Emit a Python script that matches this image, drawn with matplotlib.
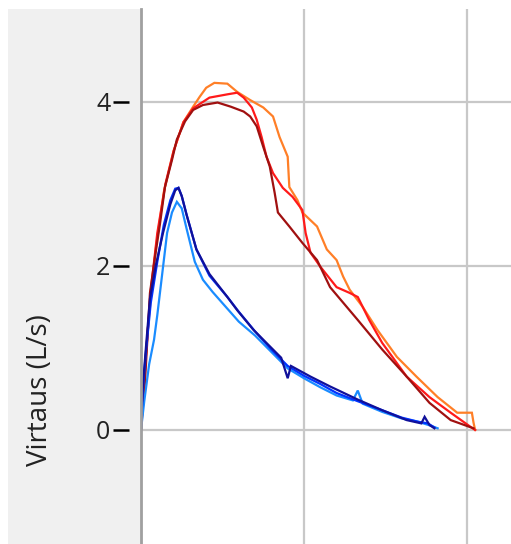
import matplotlib.pyplot as plt
from matplotlib.patches import Rectangle
from matplotlib.transforms import blended_transform_factory

# flow-volume curves, values (x: volume, y: flow L/s)
orange_x = [0, 0.04, 0.09, 0.14, 0.20, 0.26, 0.32, 0.36, 0.40, 0.45, 0.53, 0.59, 0.67,
            0.75, 0.81, 0.85, 0.90, 0.91, 0.96, 0.99, 1.08, 1.14, 1.20, 1.24, 1.28, 1.36,
            1.45, 1.57, 1.69, 1.82, 1.94, 2.03, 2.04, 2.05]
orange_y = [0, 1.2, 2.2, 2.9, 3.4, 3.75, 3.94, 4.06, 4.17, 4.23, 4.22, 4.12, 4.02,
            3.93, 3.82, 3.57, 3.33, 2.96, 2.80, 2.65, 2.48, 2.20, 2.07, 1.87, 1.71, 1.50,
            1.22, 0.89, 0.65, 0.40, 0.21, 0.21, 0.09, 0.0]

red_x = [0, 0.03, 0.06, 0.10, 0.15, 0.20, 0.26, 0.32, 0.42, 0.53, 0.59, 0.63, 0.68,
         0.71, 0.74, 0.77, 0.81, 0.87, 0.93, 0.99, 1.01, 1.04, 1.10, 1.20, 1.28, 1.33,
         1.40, 1.48, 1.63, 1.77, 1.90, 2.02, 2.05]
red_y = [0, 0.9, 1.7, 2.4, 3.0, 3.4, 3.75, 3.92, 4.05, 4.09, 4.11, 4.05, 3.93,
         3.78, 3.57, 3.33, 3.13, 2.95, 2.84, 2.68, 2.40, 2.16, 1.99, 1.74, 1.67, 1.62,
         1.34, 1.06, 0.65, 0.40, 0.21, 0.04, 0.0]

darkred_x = [0, 0.025, 0.055, 0.086, 0.117, 0.147, 0.19, 0.22, 0.27, 0.32, 0.38, 0.47,
             0.55, 0.63, 0.67, 0.71, 0.75, 0.79, 0.82, 0.84, 0.91, 0.99, 1.08, 1.16,
             1.33, 1.48, 1.63, 1.77, 1.90, 2.04]
darkred_y = [0, 0.61, 1.67, 2.11, 2.52, 2.96, 3.29, 3.54, 3.76, 3.90, 3.96, 3.99,
             3.94, 3.88, 3.82, 3.70, 3.45, 3.21, 2.89, 2.65, 2.48, 2.28, 2.07, 1.74,
             1.34, 0.98, 0.65, 0.33, 0.12, 0.02]

lightblue_x = [0, 0.02, 0.05, 0.08, 0.10, 0.13, 0.16, 0.19, 0.22, 0.25, 0.28, 0.33,
               0.38, 0.44, 0.52, 0.60, 0.70, 0.80, 0.90, 1.00, 1.10, 1.20, 1.30, 1.33,
               1.36, 1.48, 1.60, 1.70, 1.78, 1.82]
lightblue_y = [0, 0.35, 0.80, 1.10, 1.40, 1.90, 2.40, 2.65, 2.78, 2.70, 2.45, 2.05,
               1.83, 1.68, 1.50, 1.32, 1.15, 0.95, 0.75, 0.63, 0.52, 0.42, 0.36, 0.48,
               0.32, 0.22, 0.14, 0.10, 0.05, 0.02]

blue_x = [0, 0.01, 0.03, 0.06, 0.10, 0.14, 0.18, 0.21, 0.23, 0.25, 0.28, 0.34, 0.42,
          0.53, 0.60, 0.70, 0.80, 0.90, 1.00, 1.10, 1.20, 1.33, 1.48, 1.60, 1.70, 1.76,
          1.80]
blue_y = [0, 0.45, 0.95, 1.55, 2.05, 2.50, 2.80, 2.94, 2.95, 2.85, 2.62, 2.20, 1.88,
          1.62, 1.44, 1.20, 0.98, 0.78, 0.66, 0.56, 0.45, 0.35, 0.24, 0.15, 0.10, 0.08,
          0.03]

darkblue_x = [0, 0.01, 0.03, 0.055, 0.09, 0.135, 0.18, 0.21, 0.23, 0.25, 0.28, 0.34,
              0.42, 0.53, 0.59, 0.69, 0.81, 0.86, 0.90, 0.92, 1.04, 1.16, 1.33, 1.48,
              1.63, 1.72, 1.74, 1.77, 1.80]
darkblue_y = [0, 0.50, 1.00, 1.60, 2.00, 2.40, 2.75, 2.92, 2.95, 2.85, 2.62, 2.20,
              1.90, 1.62, 1.46, 1.22, 0.98, 0.88, 0.63, 0.78, 0.65, 0.53, 0.37, 0.24,
              0.12, 0.08, 0.16, 0.06, 0.02]

curves = [
    (orange_x, orange_y, "#ff7f27"),
    (red_x, red_y, "#ff1a1a"),
    (darkred_x, darkred_y, "#a01010"),
    (lightblue_x, lightblue_y, "#1a8cff"),
    (blue_x, blue_y, "#0033ff"),
    (darkblue_x, darkblue_y, "#10109a"),
]

ytick_vals = [0, 2, 4]

W, H = 511, 544
fig = plt.figure(figsize=(W / 100, H / 100), dpi=100, facecolor="white")

# gray side panel behind the tick labels
fig.patches.append(Rectangle((8 / W, 0), (141 - 8) / W, (H - 9) / H,
                             transform=fig.transFigure, facecolor="#f0f0f0",
                             edgecolor="none", zorder=-10))

ax = fig.add_axes([141 / W, 0, (W - 141) / W, (H - 9) / H])
ax.set_facecolor("white")

for xs, ys, col in curves:
    ax.plot(xs, ys, color=col, lw=1.6, solid_joinstyle="miter")

ax.set_xlim(0, 2.27)
ax.set_ylim(-1.39, 5.13)
ax.set_xticks([0, 1, 2])
ax.set_yticks(ytick_vals)
ax.grid(True, color="#c8c8c8", lw=1.6)
ax.set_axisbelow(True)

for s in ["top", "right", "bottom"]:
    ax.spines[s].set_visible(False)
ax.spines["left"].set_color("#a0a0a0")
ax.spines["left"].set_linewidth(2.0)

# tick dashes sit a little away from the axis line
ax.tick_params(axis="x", length=0, labelbottom=False)
ax.tick_params(axis="y", length=0, pad=22, labelsize=18, labelcolor="#222222")
for lab in ax.get_yticklabels():
    lab.set_fontfamily("Open Sans")
trans = blended_transform_factory(ax.transAxes, ax.transData)
ax.plot([-20 / 370] * len(ytick_vals), ytick_vals, ls="none", marker="_",
        markersize=11, markeredgewidth=1.8, color="black",
        transform=trans, clip_on=False)

fig.text(40 / W, (H - 390) / H, "Virtaus (L/s)", rotation=90, ha="center",
         va="center", fontsize=20, color="#222222", family="Open Sans")

fig.savefig("out.png", dpi=100, facecolor="white")
